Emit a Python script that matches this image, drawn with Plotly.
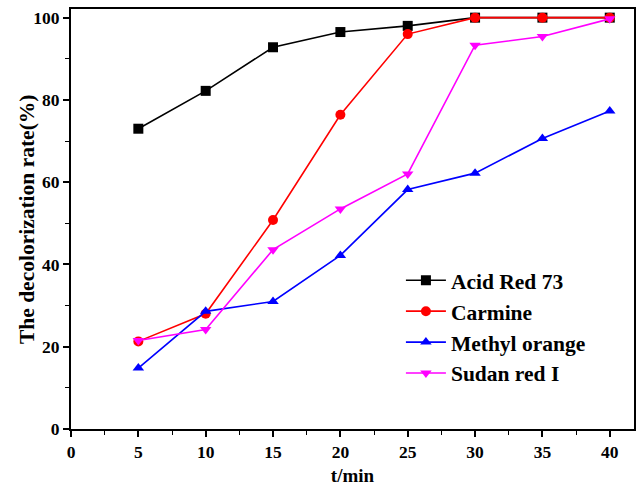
import plotly.graph_objects as go

t = [5, 10, 15, 20, 25, 30, 35, 40]
acid_red_73 = [73.0, 82.2, 92.8, 96.5, 98.0, 100.0, 100.0, 100.0]
carmine = [21.3, 28.0, 50.8, 76.4, 96.0, 100.0, 100.0, 100.0]
methyl_orange = [14.8, 28.6, 31.0, 42.2, 58.2, 62.2, 70.6, 77.3]
sudan_red_i = [21.5, 24.2, 43.6, 53.5, 62.0, 93.3, 95.4, 99.7]

series = [
    ("Acid Red 73", acid_red_73, "#000000", "square"),
    ("Carmine", carmine, "#ff0000", "circle"),
    ("Methyl orange", methyl_orange, "#0000ff", "triangle-up"),
    ("Sudan red I", sudan_red_i, "#ff00ff", "triangle-down"),
]

FONT = "Liberation Serif"
fig = go.Figure()
for name, vals, col, sym in series:
    fig.add_trace(go.Scatter(
        x=t, y=vals, name=name, mode="lines+markers",
        line=dict(color=col, width=1.6),
        marker=dict(symbol=sym, size=10, color=col),
    ))

fig.update_layout(
    width=637, height=486,
    margin=dict(l=71, r=3, t=9, b=57),
    paper_bgcolor="white", plot_bgcolor="white",
    font=dict(family=FONT, color="black"),
    showlegend=True,
    legend=dict(
        x=0.586, y=0.403, xanchor="left", yanchor="top",
        bgcolor="rgba(0,0,0,0)", borderwidth=0,
        font=dict(family=FONT, size=21.5, color="black", weight="bold"),
        tracegroupgap=0, itemwidth=40,
    ),
    xaxis=dict(
        range=[0, 41.8], tickmode="linear", tick0=0, dtick=5,
        ticks="outside", ticklen=6, tickwidth=1.5, tickcolor="black",
        minor=dict(dtick=2.5, ticks="outside", ticklen=4, tickwidth=1.2, tickcolor="black"),
        showline=True, linecolor="black", linewidth=2, mirror=True,
        showgrid=False, zeroline=False, automargin=False,
        tickfont=dict(family=FONT, size=17.5, color="black", weight="bold"),
        title=dict(text="t/min", font=dict(family=FONT, size=19, color="black", weight="bold"), standoff=10),
    ),
    yaxis=dict(
        range=[0, 102.1], tickmode="linear", tick0=0, dtick=20,
        ticks="outside", ticklen=6, tickwidth=1.5, tickcolor="black",
        minor=dict(dtick=10, ticks="outside", ticklen=4, tickwidth=1.2, tickcolor="black"),
        showline=True, linecolor="black", linewidth=2, mirror=True,
        showgrid=False, zeroline=False, automargin=False,
        tickfont=dict(family=FONT, size=17.5, color="black", weight="bold"),
    ),
    annotations=[dict(
        text="The decolorization rate(%)", textangle=-90,
        xref="paper", yref="paper", x=-0.078, y=0.5,
        xanchor="center", yanchor="middle", showarrow=False,
        font=dict(family=FONT, size=21.5, color="black", weight="bold"),
    )],
)

fig.write_html("out.html")
